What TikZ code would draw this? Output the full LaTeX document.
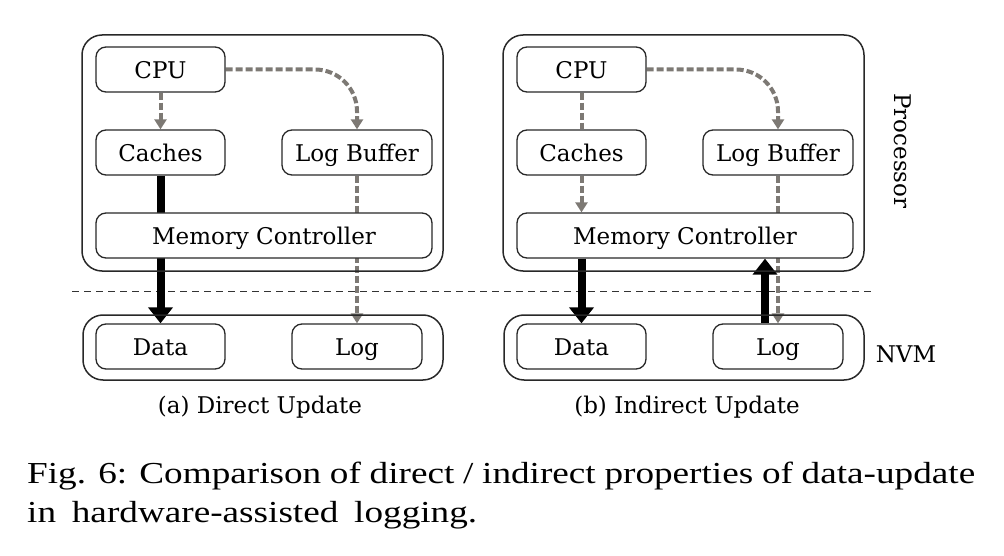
\documentclass[tikz,border=0pt]{standalone}
\usepackage{fontspec}
\setmainfont{DejaVu Serif}
\newfontfamily\capfont{Liberation Serif}[FakeStretch=1.22]
\usetikzlibrary{arrows.meta,backgrounds}
\definecolor{arrgray}{RGB}{125,121,116}
\definecolor{boxline}{RGB}{40,40,40}
\tikzset{
  box/.style={draw=boxline, line width=1.3pt, rounded corners=10pt, fill=white,
    minimum height=45pt, inner sep=0pt, text height=18pt, text depth=0pt,
    font=\fontsize{23}{27}\selectfont},
  outer/.style={draw=boxline, line width=1.5pt, rounded corners=20pt, inner sep=0pt},
  lbl/.style={inner sep=0pt, font=\fontsize{23}{27}\selectfont},
  gline/.style={draw=arrgray, line width=4pt, dash pattern=on 7pt off 3pt},
  garr/.style={gline, -{Triangle[width=12pt,length=10pt]}},
  barr/.style={draw=black, line width=8pt, -{Triangle[width=24pt,length=16pt]}},
  divider/.style={draw=black!80, line width=1pt, dash pattern=on 7pt off 5pt},
  capline/.style={inner sep=0pt, anchor=base west, font=\capfont\fontsize{30.5}{38}\selectfont}
}
\begin{document}
\begin{tikzpicture}[x=1pt,y=-1pt]
\useasboundingbox (0,0) rectangle (1004,556);

% ---------- panel (a)
\node[outer, minimum width=361pt, minimum height=236pt] (procA) at (262.5,153) {};
\node[outer, minimum width=360pt, minimum height=65pt] (nvmA) at (263,347.5) {};
\node[box, minimum width=129pt] (cpuA) at (160.5,69.5) {CPU};
\node[box, minimum width=129pt] (cacA) at (160.5,152.5) {Caches};
\node[box, minimum width=150pt] (lbA) at (357,152.5) {Log Buffer};
\node[box, minimum width=336pt] (mcA) at (264,235.5) {Memory Controller};
\node[box, minimum width=129pt] (dataA) at (160.5,346.5) {Data};
\node[box, minimum width=130pt] (logA) at (357,346.5) {Log};
\node[lbl, anchor=base] (capA) at (260,413) {(a) Direct Update};

% ---------- panel (b)
\node[outer, minimum width=361pt, minimum height=236pt] (procB) at (683.5,153) {};
\node[outer, minimum width=360pt, minimum height=65pt] (nvmB) at (684,347.5) {};
\node[box, minimum width=129pt] (cpuB) at (581.5,69.5) {CPU};
\node[box, minimum width=129pt] (cacB) at (581.5,152.5) {Caches};
\node[box, minimum width=150pt] (lbB) at (778,152.5) {Log Buffer};
\node[box, minimum width=336pt] (mcB) at (685,235.5) {Memory Controller};
\node[box, minimum width=129pt] (dataB) at (581.5,346.5) {Data};
\node[box, minimum width=130pt] (logB) at (778,346.5) {Log};
\node[lbl, anchor=base] (capB) at (687,413) {(b) Indirect Update};

% ---------- side labels
\node[lbl, rotate=-90] (procL) at (903,151) {Processor};
\node[lbl, anchor=base] (nvmL) at (906,362) {NVM};

% ---------- divider
\coordinate (dl) at (72,291);
\coordinate (dr) at (875,291);

\begin{scope}[on background layer]
\draw[divider] (dl) -- (dr);
% panel (a) arrows
\draw[garr] (cpuA.south) -- (cacA.north);
\draw[garr, rounded corners=42pt] (cpuA.east) -| (lbA.north);
\draw[barr] (cacA.south) -- (dataA.north);
\draw[garr] (lbA.south) -- (logA.north);
% panel (b) arrows
\draw[gline] (cpuB.south) -- (cacB.north);
\draw[garr, rounded corners=42pt] (cpuB.east) -| (lbB.north);
\draw[garr] (cacB.south) -- (mcB.north -| cacB.south);
\draw[garr] (lbB.south) -- (logB.north);
\draw[barr] (mcB.south -| dataB.north) -- (dataB.north);
\draw[barr] ([xshift=-13pt]logB.north) -- ([xshift=-13pt]logB.north |- mcB.south);
\end{scope}

% ---------- figure caption
\node[capline] (cap1) at (27,483) {\makebox[948pt][s]{Fig. 6: Comparison of direct / indirect properties of data-update}};
\node[capline] (cap2) at (27,522) {\makebox[450pt][s]{in hardware-assisted logging.}};
\end{tikzpicture}
\end{document}
